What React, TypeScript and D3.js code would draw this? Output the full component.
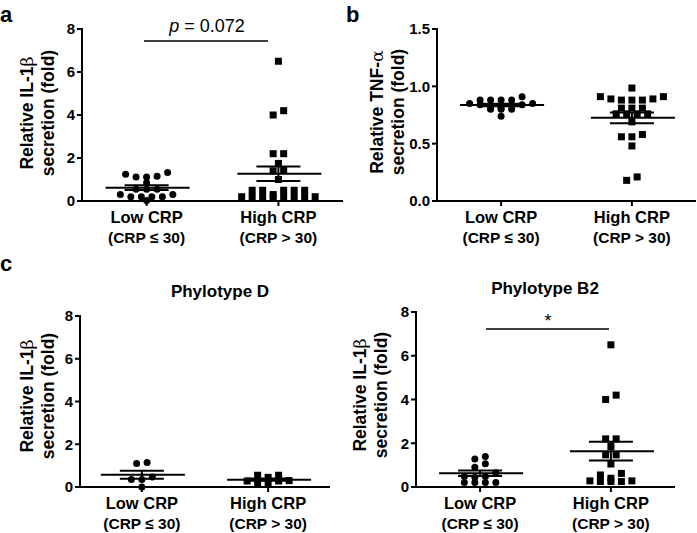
import React from 'react';
import * as d3 from 'd3';

const categories = ['Low CRP', 'High CRP'];
const categorySub = ['(CRP ≤ 30)', '(CRP > 30)'];
const il1bTicks = [0, 2, 4, 6, 8];
const tnfTicks = [0, 0.5, 1.0, 1.5];

// panel a : IL-1β, all patients
const aLow = [1.33, 1.25, 1.15, 1.12, 1.12, 0.85, 0.55, 0.55, 0.55, 0.3, 0.3, 0.2, 0.2, 0.2, 0.2, 0.02];
const aHigh = [6.5, 4.0, 4.2, 2.2, 2.2, 1.75, 1.45, 1.4, 1.0, 0.5, 0.5, 0.5, 0.5, 0.5, 0.3, 0.2, 0.2, 0.2, 0.2, 0.2, 0.2, 0.2, 0.2];
// panel b : TNF-α
const bLow = [0.91, 0.88, 0.88, 0.88, 0.88, 0.85, 0.84, 0.84, 0.84, 0.85, 0.81, 0.8, 0.8, 0.8, 0.81, 0.74];
const bHigh = [0.985, 0.91, 0.89, 0.88, 0.88, 0.88, 0.89, 0.91, 0.81, 0.81, 0.81, 0.76, 0.76, 0.76, 0.76, 0.69, 0.56, 0.58, 0.56, 0.48, 0.18, 0.21];
// panel c : phylotype D
const dLow = [1.1, 1.15, 0.35, 0.35, 0.47, 0.0];
const dHigh = [0.55, 0.45, 0.55, 0.28, 0.28, 0.15, 0.2, 0.3];
// panel c : phylotype B2
const b2Low = [1.4, 1.28, 1.06, 0.9, 0.65, 0.48, 0.45, 0.48, 0.21, 0.21, 0.21, 0.21];
const b2High = [6.5, 4.2, 4.0, 2.2, 2.2, 1.85, 1.47, 1.47, 1.05, 0.62, 0.55, 0.28, 0.25, 0.25, 0.25, 0.28, 0.4];

const FONT = "'Liberation Sans', Arial, Helvetica, sans-serif";
const MARK = 7;
const ROW = 5;
const SPACING = 10.5;

type Pt = { x: number; y: number };

function swarm(vals: number[], y: (v: number) => number, cx: number): Pt[] {
  const sorted = vals.map((v) => y(v)).sort((a, b) => a - b);
  const bins: number[][] = [];
  let cur: number[] = [];
  let start = -Infinity;
  for (const py of sorted) {
    if (py - start > ROW) {
      if (cur.length) bins.push(cur);
      cur = [py];
      start = py;
    } else cur.push(py);
  }
  if (cur.length) bins.push(cur);
  const out: Pt[] = [];
  for (const bin of bins) {
    const n = bin.length;
    const offs = d3.range(n).map((i) => (i - (n - 1) / 2) * SPACING);
    const order = offs.slice().sort((a, b) => Math.abs(a) - Math.abs(b) || a - b);
    const pts = bin.slice().sort((a, b) => b - a);
    pts.forEach((py, i) => out.push({ x: cx + order[i], y: py }));
  }
  return out;
}

type PanelProps = {
  x0: number; x1: number; yTop: number; yBottom: number;
  domain: [number, number]; ticks: number[]; fmt: (v: number) => string;
  low: number[]; high: number[];
  label1: React.ReactNode; label2: string;
  lx1: number; lx2: number; ly: number;
  title?: string; titleX?: number; titleY?: number;
  sig?: { text: React.ReactNode; lineY: number; textY: number; x0: number; x1: number; tx: number; size: number };
};

function Panel(p: PanelProps) {
  const y = d3.scaleLinear().domain(p.domain).range([p.yBottom, p.yTop]);
  const x = d3.scalePoint<string>().domain(categories).range([p.x0, p.x1]).padding(0.49);
  const groups = [p.low, p.high];
  return (
    <g>
      {groups.map((vals, gi) => {
        const cx = x(categories[gi]) as number;
        const pts = swarm(vals, y, cx);
        const m = d3.mean(vals) as number;
        const sem = (d3.deviation(vals) as number) / Math.sqrt(vals.length);
        return (
          <g key={gi}>
            {pts.map((pt, i) =>
              gi === 0 ? (
                <circle key={i} cx={pt.x} cy={pt.y} r={MARK / 2} fill="#000" />
              ) : (
                <rect key={i} x={pt.x - MARK / 2} y={pt.y - MARK / 2} width={MARK} height={MARK} fill="#000" />
              )
            )}
            <line x1={cx - 41} x2={cx + 43} y1={y(m)} y2={y(m)} stroke="#000" strokeWidth={2} />
            <line x1={cx - 22} x2={cx + 22} y1={y(m + sem)} y2={y(m + sem)} stroke="#000" strokeWidth={2} />
            <line x1={cx - 22} x2={cx + 22} y1={y(m - sem)} y2={y(m - sem)} stroke="#000" strokeWidth={2} />
            <line x1={cx} x2={cx} y1={y(m + sem)} y2={y(m - sem)} stroke="#000" strokeWidth={2} />
            <line x1={cx} x2={cx} y1={p.yBottom} y2={p.yBottom + 5} stroke="#000" strokeWidth={2} />
            <text x={cx} y={p.yBottom + 22} textAnchor="middle" fontFamily={FONT} fontWeight="bold" fontSize={16.5}>
              {categories[gi]}
            </text>
            <text x={cx} y={p.yBottom + 41.5} textAnchor="middle" fontFamily={FONT} fontWeight="bold" fontSize={15.5}>
              {categorySub[gi]}
            </text>
          </g>
        );
      })}
      <line x1={p.x0} x2={p.x0} y1={p.yTop - 1} y2={p.yBottom + 1} stroke="#000" strokeWidth={2} />
      <line x1={p.x0 - 1} x2={p.x1} y1={p.yBottom} y2={p.yBottom} stroke="#000" strokeWidth={2} />
      {p.ticks.map((t) => (
        <g key={t}>
          <line x1={p.x0 - 5} x2={p.x0} y1={y(t)} y2={y(t)} stroke="#000" strokeWidth={2} />
          <text x={p.x0 - 7} y={y(t)} dy="0.36em" textAnchor="end" fontFamily={FONT} fontWeight="bold" fontSize={15}>
            {p.fmt(t)}
          </text>
        </g>
      ))}
      <text transform={`translate(${p.lx1},${p.ly}) rotate(-90)`} textAnchor="middle" fontFamily={FONT} fontWeight="bold" fontSize={17.5}>
        {p.label1}
      </text>
      <text transform={`translate(${p.lx2},${p.ly}) rotate(-90)`} textAnchor="middle" fontFamily={FONT} fontWeight="bold" fontSize={17.5}>
        {p.label2}
      </text>
      {p.title && (
        <text x={p.titleX} y={p.titleY} textAnchor="middle" fontFamily={FONT} fontWeight="bold" fontSize={17}>
          {p.title}
        </text>
      )}
      {p.sig && (
        <g>
          <line x1={p.sig.x0} x2={p.sig.x1} y1={p.sig.lineY} y2={p.sig.lineY} stroke="#000" strokeWidth={1.5} />
          <text x={p.sig.tx} y={p.sig.textY} textAnchor="middle" fontFamily={FONT} fontSize={p.sig.size}>
            {p.sig.text}
          </text>
        </g>
      )}
    </g>
  );
}

const greek = { fontFamily: "'DejaVu Serif', serif", fontWeight: 'normal' as const };

export default function App() {
  const f0 = d3.format('d');
  const f1 = d3.format('.1f');
  return (
    <svg width={697} height={533} style={{ position: 'absolute', left: 0, top: 0, background: '#fff' }}>
      <rect width={697} height={533} fill="#fff" />
      <text x={0} y={22} fontFamily={FONT} fontWeight="bold" fontSize={22}>a</text>
      <text x={346} y={22} fontFamily={FONT} fontWeight="bold" fontSize={22}>b</text>
      <text x={0} y={271} fontFamily={FONT} fontWeight="bold" fontSize={22}>c</text>
      <Panel
        x0={82} x1={343} yTop={29} yBottom={201} domain={[0, 8]} ticks={il1bTicks} fmt={f0}
        low={aLow} high={aHigh}
        label1={<>Relative IL-1<tspan style={greek}>β</tspan></>} label2="secretion (fold)"
        lx1={33} lx2={53.5} ly={113}
        sig={{ text: <><tspan fontStyle="italic">p</tspan> = 0.072</>, lineY: 41, textY: 32, x0: 144, x1: 268, tx: 207, size: 18 }}
      />
      <Panel
        x0={437} x1={696} yTop={29} yBottom={201} domain={[0, 1.5]} ticks={tnfTicks} fmt={f1}
        low={bLow} high={bHigh}
        label1={<>Relative TNF-<tspan style={greek}>α</tspan></>} label2="secretion (fold)"
        lx1={383} lx2={403.5} ly={112}
      />
      <Panel
        x0={80} x1={330} yTop={316} yBottom={487} domain={[0, 8]} ticks={il1bTicks} fmt={f0}
        low={dLow} high={dHigh}
        label1={<>Relative IL-1<tspan style={greek}>β</tspan></>} label2="secretion (fold)"
        lx1={33} lx2={54} ly={396}
        title="Phylotype D" titleX={220} titleY={297}
      />
      <Panel
        x0={416} x1={675} yTop={312} yBottom={487} domain={[0, 8]} ticks={il1bTicks} fmt={f0}
        low={b2Low} high={b2High}
        label1={<>Relative IL-1<tspan style={greek}>β</tspan></>} label2="secretion (fold)"
        lx1={366} lx2={387} ly={395}
        title="Phylotype B2" titleX={545} titleY={294}
        sig={{ text: '*', lineY: 329, textY: 327, x0: 486, x1: 609, tx: 548, size: 18 }}
      />
    </svg>
  );
}
